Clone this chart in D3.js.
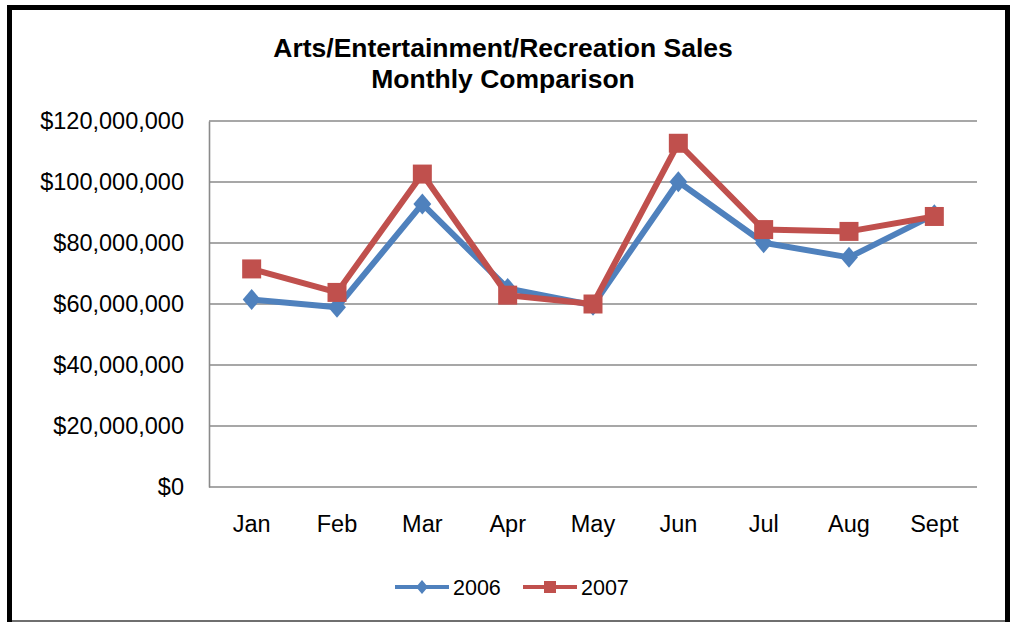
<!DOCTYPE html>
<html>
<head>
<meta charset="utf-8">
<script src="https://cdn.jsdelivr.net/npm/d3@7"></script>
<style>
  html, body { margin: 0; padding: 0; background: #ffffff; }
  svg { display: block; font-family: "Liberation Sans", Arial, sans-serif; }
</style>
</head>
<body>
<svg id="chart" width="1013" height="622"></svg>
<script>
// Monthly sales, in dollars
const months = ["Jan", "Feb", "Mar", "Apr", "May", "Jun", "Jul", "Aug", "Sept"];
const sales2006 = [61500000, 58900000, 92800000, 65100000, 59600000, 100100000, 80100000, 75300000, 89300000];
const sales2007 = [71500000, 63800000, 102600000, 62900000, 60000000, 112700000, 84400000, 83800000, 88700000];
const yTicks = [0, 20000000, 40000000, 60000000, 80000000, 100000000, 120000000];
const titleLines = ["Arts/Entertainment/Recreation Sales", "Monthly Comparison"];

const series = [
  { name: "2006", values: sales2006, color: "#4F81BD", marker: "diamond" },
  { name: "2007", values: sales2007, color: "#C0504D", marker: "square" }
];

const svg = d3.select("#chart");
const plot = { left: 209, top: 121, right: 977, bottom: 487 };

// Chart frame
svg.append("line").attr("x1", 12).attr("x2", 1005).attr("y1", 621).attr("y2", 621)
  .attr("stroke", "#6f6f6f").attr("stroke-width", 2);
svg.append("path")
  .attr("d", `M9.5,622 V7.5 H1007.5 V622`)
  .attr("fill", "none").attr("stroke", "#000").attr("stroke-width", 5);

// Title
svg.append("text")
  .attr("x", 503).attr("y", 57)
  .attr("text-anchor", "middle")
  .attr("font-weight", "bold").attr("font-size", 26.5).attr("fill", "#000")
  .selectAll("tspan").data(titleLines).join("tspan")
  .attr("x", 503).attr("dy", (d, i) => i === 0 ? 0 : 31)
  .text(d => d);

// Scales
const x = d3.scaleBand().domain(months).range([plot.left, plot.right]).padding(0);
const y = d3.scaleLinear().domain([0, 120000000]).range([plot.bottom, plot.top]);
const cx = m => x(m) + x.bandwidth() / 2;

// Gridlines
svg.append("g").selectAll("line").data(yTicks.filter(t => t > 0)).join("line")
  .attr("x1", plot.left).attr("x2", plot.right)
  .attr("y1", d => y(d)).attr("y2", d => y(d))
  .attr("stroke", "#8a8a8a").attr("stroke-width", 1.6);

// Y axis
const fmt = d => "$" + d3.format(",")(d);
const yAxis = svg.append("g")
  .attr("transform", `translate(${plot.left},0)`)
  .call(d3.axisLeft(y).tickValues(yTicks).tickFormat(fmt).tickSize(0).tickPadding(25));
yAxis.select(".domain").attr("stroke", "#8a8a8a").attr("stroke-width", 1.6);
yAxis.selectAll("text").attr("font-size", 23.5).attr("fill", "#000")
  .attr("font-family", "Liberation Sans, Arial, sans-serif");

// X axis
const xAxis = svg.append("g")
  .attr("transform", `translate(0,${plot.bottom})`)
  .call(d3.axisBottom(x).tickSize(0).tickPadding(28));
xAxis.select(".domain").attr("d", `M${plot.left},0H${plot.right}`)
  .attr("stroke", "#8a8a8a").attr("stroke-width", 1.6);
xAxis.selectAll("text").attr("font-size", 23.5).attr("fill", "#000")
  .attr("font-family", "Liberation Sans, Arial, sans-serif");

// Marker shapes
function markerPath(type, s) {
  if (type === "diamond") {
    return `M0,${-s} L${s * 0.85},0 L0,${s} L${-s * 0.85},0 Z`;
  }
  return `M${-s},${-s} H${s} V${s} H${-s} Z`;
}

// Lines and markers
const line = d3.line().x((d, i) => cx(months[i])).y(d => y(d));
series.forEach(s => {
  const g = svg.append("g");
  g.append("path").attr("d", line(s.values))
    .attr("fill", "none").attr("stroke", s.color).attr("stroke-width", 6)
    .attr("stroke-linejoin", "round");
  g.selectAll("path.m").data(s.values).join("path").attr("class", "m")
    .attr("transform", (d, i) => `translate(${cx(months[i])},${y(d)})`)
    .attr("d", s.marker === "diamond" ? markerPath("diamond", 10.5) : markerPath("square", 9.5))
    .attr("fill", s.color);
});

// Legend
const legendItems = [
  { s: series[0], x0: 395 },
  { s: series[1], x0: 523 }
];
const ly = 587;
legendItems.forEach(({ s, x0 }) => {
  const g = svg.append("g");
  g.append("line").attr("x1", x0).attr("x2", x0 + 54).attr("y1", ly).attr("y2", ly)
    .attr("stroke", s.color).attr("stroke-width", 4);
  g.append("path").attr("transform", `translate(${x0 + 27},${ly})`)
    .attr("d", s.marker === "diamond" ? markerPath("diamond", 7) : markerPath("square", 6))
    .attr("fill", s.color);
  g.append("text").attr("x", x0 + 58).attr("y", ly + 8)
    .attr("font-size", 21.5).attr("fill", "#000").text(s.name);
});
</script>
</body>
</html>
